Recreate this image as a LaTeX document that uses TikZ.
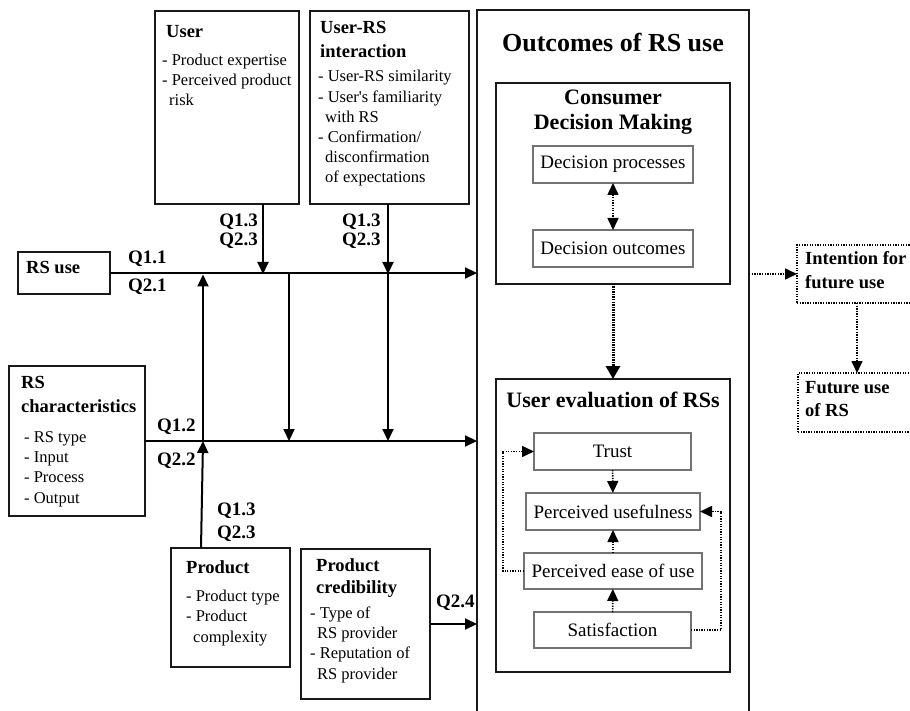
\documentclass[tikz,border=0pt]{standalone}
\usepackage{fontspec}
\setmainfont{Liberation Serif}
\usetikzlibrary{arrows.meta,calc}

\tikzset{
  box/.style={draw=black!90, line width=1.8pt, inner sep=0pt, outer sep=0pt, anchor=north west},
  ibox/.style={draw=black!55, line width=1.4pt, inner sep=0pt, outer sep=0pt, anchor=north west,
               font=\fontsize{19}{23}\selectfont},
  dbox/.style={draw, line width=1.3pt, dash pattern=on 1.3pt off 1.3pt, inner sep=0pt, outer sep=0pt, anchor=north west},
  % multi-line texts are placed by the baseline of their last line
  hd/.style={font=\bfseries\fontsize{18.5}{24}\selectfont, align=left, inner sep=0pt, anchor=base west},
  lst/.style={font=\fontsize{16.5}{20.2}\selectfont, align=left, inner sep=0pt, anchor=base west},
  ql/.style={font=\bfseries\fontsize{19}{19}\selectfont, align=left, inner sep=0pt, anchor=base west},
  tip/.tip={Triangle[length=12pt,width=11pt]},
  flow/.style={line width=2pt, -tip},
  dflow/.style={line width=1.6pt, dash pattern=on 1.3pt off 1.3pt, -tip},
  tflow/.style={line width=3pt, dash pattern=on 1.5pt off 1pt, -{Triangle[length=13pt,width=14pt]}},
}

\begin{document}
\begin{tikzpicture}[x=1pt, y=-1pt]
\useasboundingbox (0,0) rectangle (910,711);
\clip (0,0) rectangle (910,711);

% ---------- boxes ----------
\node[box, minimum width=144pt, minimum height=193pt] (user)     at (155,11)  {};
\node[box, minimum width=159pt, minimum height=193pt] (userrs)   at (310,11)  {};
\node[box, minimum width=272pt, minimum height=720pt] (outcomes) at (477,10)  {};
\node[box, minimum width=92pt,  minimum height=42pt]  (rsuse)    at (18,252)  {};
\node[box, minimum width=136pt, minimum height=150pt] (rschar)   at (9,366)   {};
\node[box, minimum width=119pt, minimum height=119pt] (product)  at (171,548) {};
\node[box, minimum width=129pt, minimum height=150pt] (prodcred) at (301,549) {};
\node[box, minimum width=234pt, minimum height=201pt] (cdm)      at (496,83)  {};
\node[box, minimum width=234pt, minimum height=293pt] (ueval)    at (496,379) {};

\node[ibox, minimum width=160pt, minimum height=37pt] (dproc) at (533,146) {Decision processes};
\node[ibox, minimum width=160pt, minimum height=37pt] (dout)  at (533,230) {Decision outcomes};
\node[ibox, minimum width=157pt, minimum height=37pt] (trust) at (534,433) {Trust};
\node[ibox, minimum width=174pt, minimum height=37pt] (pu)    at (526,493) {Perceived usefulness};
\node[ibox, minimum width=178pt, minimum height=36pt] (peou)  at (524,553) {Perceived ease of use};
\node[ibox, minimum width=157pt, minimum height=36pt] (sat)   at (534,612) {Satisfaction};

\node[dbox, minimum width=130pt, minimum height=58pt] (intent) at (797,245) {};
\node[dbox, minimum width=130pt, minimum height=59pt] (future) at (798,373) {};

% ---------- texts ----------
\node[hd]  (user-h) at (166,38) {User};
\node[lst] (user-l) at (162,106) {- Product expertise\\- Perceived product\\\hspace*{7pt}risk};

\node[hd]  (urs-h) at (320,58) {User-RS\\interaction};
\node[lst] (urs-l) at (318,183) {- User-RS similarity\\- User\textquotesingle s familiarity\\\hspace*{7pt}with RS\\- Confirmation/\\\hspace*{7pt}disconfirmation\\\hspace*{7pt}of expectations};

\node[hd]  (rsuse-t) at (26,273) {RS use};

\node[hd]  (rsc-h) at (21,412) {RS\\characteristics};
\node[lst] (rsc-l) at (24,503) {- RS type\\- Input\\- Process\\- Output};

\node[hd]  (prod-h) at (186,573) {Product};
\node[lst] (prod-l) at (186,642) {- Product type\\- Product\\\hspace*{7pt}complexity};

\node[hd, font=\bfseries\fontsize{18.5}{22}\selectfont] (pc-h) at (316,593) {Product\\credibility};
\node[lst] (pc-l) at (310,679) {- Type of\\\hspace*{7pt}RS provider\\- Reputation of\\\hspace*{7pt}RS provider};

\node[font=\bfseries\fontsize{26}{30}\selectfont, inner sep=0pt, anchor=base] (out-t) at (613,52) {Outcomes of RS use};
\node[font=\bfseries\fontsize{22}{25}\selectfont, inner sep=0pt, align=center, anchor=base] (cdm-t) at (613,130) {Consumer\\Decision Making};
\node[font=\bfseries\fontsize{22}{25}\selectfont, inner sep=0pt, anchor=base] (ue-t) at (613,407) {User evaluation of RSs};

\node[hd, font=\bfseries\fontsize{18.5}{23.5}\selectfont] (int-t) at (805,288) {Intention for\\future use};
\node[hd, font=\bfseries\fontsize{18.5}{23}\selectfont]   (fut-t) at (805,416) {Future use\\of RS};

% ---------- question labels ----------
\node[ql] (q11) at (128,264) {Q1.1};
\node[ql] (q21) at (128,292) {Q2.1};
\node[ql, align=right, anchor=base east] (q-user) at (258,246) {Q1.3\\Q2.3};
\node[ql] (q-urs) at (342,246) {Q1.3\\Q2.3};
\node[ql] (q12) at (157,431) {Q1.2};
\node[ql] (q22) at (157,465) {Q2.2};
\node[ql, font=\bfseries\fontsize{19}{23}\selectfont] (q-prod) at (217,538) {Q1.3\\Q2.3};
\node[ql] (q24) at (436,607) {Q2.4};

% ---------- junctions on the two main lines ----------
\coordinate (ja) at (263,274);
\coordinate (jb) at (388,274);
\coordinate (jc) at (289,274);
\coordinate (jd) at (203,441);

% ---------- solid connectors ----------
\draw[flow] (rsuse.east) -- (rsuse.east -| outcomes.west);
\draw[flow] (rschar.east) -- (rschar.east -| outcomes.west);
\draw[flow] (user.south -| ja) -- (ja);
\draw[flow] (userrs.south -| jb) -- (jb);
\draw[flow] (jc) -- (jc |- rschar.east);
\draw[flow] (jb) -- (jb |- rschar.east);
\draw[flow, shorten >=1.5pt] (jd) -- (jd |- rsuse.east);
\draw[flow] ([xshift=30pt]product.north west) -- (jd);
\draw[flow] (prodcred.east) -- (prodcred.east -| outcomes.west);

% ---------- dotted connectors ----------
\draw[dflow, tip-tip] (dproc) -- (dout);
\draw[tflow] (cdm) -- (ueval);
\draw[dflow] (intent.west -| outcomes.east) -- (intent.west);
\draw[dflow] ([xshift=-5pt]intent.south) -- ([xshift=-5pt]intent.south |- future.north);
\draw[dflow] (trust) -- (pu);
\draw[dflow] (peou) -- (pu);
\draw[dflow] (sat) -- (peou);
\draw[dflow] (peou.west) -- ++(-21,0) |- (trust.west);
\draw[dflow] (sat.east) -- ++(30,0) |- (pu.east);
\end{tikzpicture}
\end{document}
